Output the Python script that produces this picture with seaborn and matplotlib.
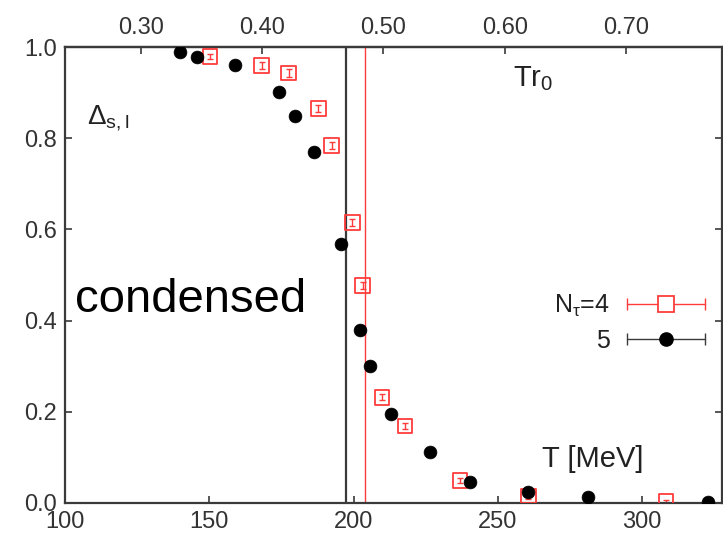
import matplotlib
matplotlib.use("Agg")
import matplotlib.pyplot as plt
import seaborn as sns
import pandas as pd
from matplotlib.lines import Line2D
from matplotlib.legend_handler import HandlerLine2D, HandlerTuple

# N_tau = 4 (open red squares)
t_nt4 = [150.3, 168.2, 177.5, 187.8, 192.4, 199.6, 203.2, 209.8, 217.9, 236.9, 260.6, 308.3]
d_nt4 = [0.979, 0.960, 0.943, 0.865, 0.784, 0.615, 0.477, 0.232, 0.169, 0.049, 0.015, 0.003]
e_nt4 = [0.006, 0.007, 0.008, 0.008, 0.007, 0.008, 0.008, 0.007, 0.007, 0.006, 0.006, 0.004]

# N_tau = 5 (filled black circles)
t_nt5 = [139.9, 145.6, 159.0, 174.3, 179.6, 186.3, 195.6, 202.3, 205.7, 212.9, 226.5, 240.4, 260.6, 281.4, 323.0]
d_nt5 = [0.990, 0.979, 0.960, 0.901, 0.848, 0.769, 0.569, 0.380, 0.300, 0.196, 0.111, 0.047, 0.025, 0.014, 0.003]

# transition temperatures
tc_nt5 = 197.4
tc_nt4 = 204.0

# scale r0 for the upper axis
r0_fm = 0.469
hbarc = 197.327

x_ticks = [100, 150, 200, 250, 300]
y_ticks = [0.0, 0.2, 0.4, 0.6, 0.8, 1.0]
top_ticks = [0.30, 0.40, 0.50, 0.60, 0.70]

RED = "#ff3b3b"
DARK = "#3a3a3a"

sns.set_style("ticks")
plt.rcParams["font.family"] = ["Liberation Sans", "DejaVu Sans"]
plt.rcParams["mathtext.fontset"] = "custom"
plt.rcParams["mathtext.rm"] = "Liberation Sans"
plt.rcParams["mathtext.it"] = "Liberation Sans"
plt.rcParams["mathtext.default"] = "regular"

fig = plt.figure(figsize=(7.23, 5.42), dpi=100)
ax = fig.add_axes([0.0899, 0.072, 0.9087, 0.841])

df4 = pd.DataFrame({"T": t_nt4, "D": d_nt4, "err": e_nt4})
df5 = pd.DataFrame({"T": t_nt5, "D": d_nt5})

ax.axvline(tc_nt5, color=DARK, lw=1.6, zorder=1)
ax.axvline(tc_nt4, color=RED, lw=1.0, zorder=1)

ax.errorbar(df4["T"], df4["D"], yerr=df4["err"], fmt="none", ecolor=RED,
            elinewidth=1.0, capsize=2.5, capthick=1.0, zorder=2)
sns.scatterplot(data=df4, x="T", y="D", ax=ax, marker="s", s=110,
                facecolors="none", edgecolor=RED, linewidth=1.3, zorder=3)
sns.scatterplot(data=df5, x="T", y="D", ax=ax, marker="o", s=85,
                color="black", edgecolor="black", linewidth=0.5, zorder=4)

ax.set_xlim(100, 327.7)
ax.set_ylim(0, 1.0)
ax.set_xticks(x_ticks)
ax.set_yticks(y_ticks)
ax.set_yticklabels([f"{v:.1f}" for v in y_ticks])
ax.set_xlabel("")
ax.set_ylabel("")

for side in ["left", "right", "top", "bottom"]:
    ax.spines[side].set_visible(True)
    ax.spines[side].set_color(DARK)
    ax.spines[side].set_linewidth(1.6)

ax.tick_params(axis="both", direction="in", length=5, width=1.2, color=DARK,
               labelsize=17, labelcolor="#333333", pad=6)
ax.tick_params(axis="y", right=True, labelright=False)
ax.tick_params(axis="x", top=False)

# upper axis in units of T r0
secax = ax.secondary_xaxis("top",
                           functions=(lambda t: t * r0_fm / hbarc,
                                      lambda u: u * hbarc / r0_fm))
secax.set_xticks(top_ticks)
secax.set_xticklabels([f"{v:.2f}" for v in top_ticks])
secax.tick_params(direction="in", length=5, width=1.2, color=DARK,
                  labelsize=17, labelcolor="#333333", pad=6)
secax.spines["top"].set_color(DARK)
secax.spines["top"].set_linewidth(1.6)

ax.text(103.5, 0.42, "condensed", fontsize=34, color="black",
        ha="left", va="baseline")
ax.text(107.6, 0.831, r"$\Delta_{s,l}$", fontsize=20, color="#222222",
        ha="left", va="baseline")
ax.text(255.3, 0.914, r"$Tr_0$", fontsize=21, color="#222222",
        ha="left", va="baseline")
ax.text(265.3, 0.079, "T [MeV]", fontsize=21, color="#222222",
        ha="left", va="baseline")

# legend with horizontal error-bar style keys
bar4 = Line2D([], [], color=RED, lw=1.0, marker="|", markersize=8, markeredgewidth=1.0)
mk4 = Line2D([], [], color=RED, ls="none", marker="s", markersize=11,
             markerfacecolor="white", markeredgewidth=1.3)
bar5 = Line2D([], [], color=DARK, lw=1.0, marker="|", markersize=8, markeredgewidth=1.0)
mk5 = Line2D([], [], color="black", ls="none", marker="o", markersize=9.5)
hmap = {bar4: HandlerLine2D(numpoints=2), bar5: HandlerLine2D(numpoints=2),
        mk4: HandlerLine2D(numpoints=1), mk5: HandlerLine2D(numpoints=1)}
leg = ax.legend([(bar4, mk4), (bar5, mk5)], [r"$N_\tau$=4", "5"],
                handler_map={tuple: HandlerTuple(ndivide=1), **hmap},
                loc="center right", bbox_to_anchor=(0.9855, 0.395),
                borderaxespad=0.0, borderpad=0.0,
                frameon=False, markerfirst=False, fontsize=18,
                handlelength=3.72, handletextpad=0.4, labelspacing=0.4)
for txt in leg.get_texts():
    txt.set_ha("right")
    txt.set_color("#222222")

fig.savefig("out.png", dpi=100)
